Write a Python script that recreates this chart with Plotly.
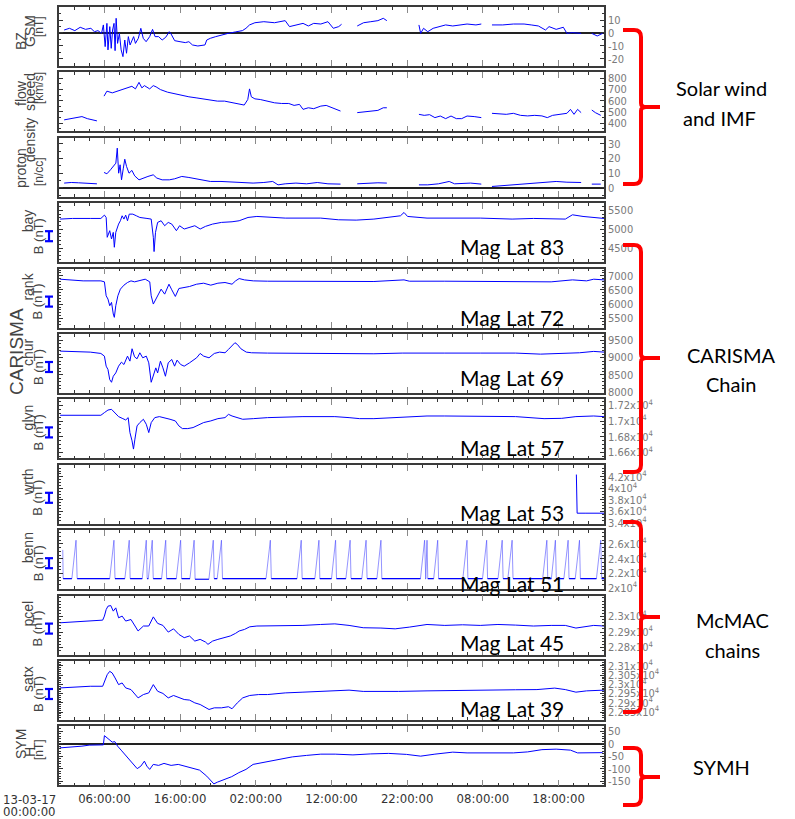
import plotly.graph_objects as go

# ---------------- time axis (hours since 2013-03-17 00:00) ----------------
tick_hours = [6, 16, 26, 36, 46, 56, 66]
tick_labels = ["06:00:00", "16:00:00", "02:00:00", "12:00:00", "22:00:00", "08:00:00", "18:00:00"]

# ---------------- data: (hour, value) ----------------
bz_gsm = [(0.68, 2.3), (1.38, 3.6), (2.09, 1.8), (2.80, 4.4), (3.50, 2.8), (4.21, 3.6), (4.68, 1.0), (5.15, 1.8),
          (5.62, -0.3), (5.86, 6.2), (6.10, -10.5), (6.33, 7.4), (6.47, -13.0), (6.71, 4.9), (6.90, -11.8),
          (7.08, 2.3), (7.27, 7.4), (7.41, -13.6), (7.55, 11.3), (7.74, -8.0), (7.98, -0.3), (8.21, -13.0),
          (8.45, -18.2), (8.69, -5.4), (8.92, -15.6), (9.16, -2.8), (9.39, -9.2), (9.63, -5.4), (9.86, -2.8),
          (10.10, -8.0), (10.48, -4.1), (10.81, 3.6), (11.13, -4.1), (11.51, -6.7), (11.98, -2.8), (12.36, 2.8),
          (12.69, -2.8), (13.16, -2.8), (13.63, -5.4), (14.10, -3.3), (14.57, 1.0), (14.81, -0.8), (15.28, -5.9),
          (15.99, -6.7), (16.69, -7.4), (17.16, -6.7), (17.63, -9.2), (18.34, -10.0), (19.28, -9.2), (19.52, -5.4),
          (19.99, -4.1), (20.70, -2.8), (21.40, -1.5), (22.34, -0.3), (23.29, 0.8), (24.23, 1.8), (24.70, 3.6),
          (25.17, 6.2), (25.88, 7.9), (27.06, 8.7), (28.47, 7.9), (29.88, 9.5), (30.45, 4.9), (31.30, 6.2),
          (32.24, 7.4), (32.94, 5.4), (33.65, 7.4), (34.59, 6.9), (35.53, 8.7), (36.24, 3.6), (36.95, 4.9),
          (37.33, 6.7), (None, None), (39.40, 5.4), (40.24, 7.9), (41.19, 8.7), (42.13, 9.5), (42.84, 11.3),
          (43.31, 9.5), (None, None), (47.55, 6.2), (47.78, -0.3), (48.16, 3.6), (48.72, 1.0), (49.43, 3.6),
          (50.13, 4.9), (51.08, 6.2), (52.02, 5.4), (52.96, 6.2), (53.91, 6.9), (55.08, 6.2), (55.79, 6.9),
          (None, None), (57.20, 6.2), (58.62, 6.2), (60.03, 6.9), (61.44, 6.9), (62.38, 6.2), (63.33, 5.4),
          (64.27, 2.3), (64.74, 4.9), (65.68, 2.8), (66.63, 4.4), (67.10, -0.3), (67.80, 0.3), (68.98, -0.3),
          (None, None), (70.39, -0.3), (71.10, -2.3), (71.81, -0.3)]

flow_speed = [(0.68, 430), (1.62, 441), (2.33, 450), (3.03, 459), (3.74, 441), (4.45, 430), (5.01, 421), (None, None),
              (5.95, 640), (6.33, 684), (7.04, 669), (7.74, 684), (8.45, 698), (9.16, 713), (9.63, 727), (10.10, 704),
              (10.57, 762), (10.95, 713), (11.28, 733), (11.98, 704), (12.45, 733), (12.83, 722), (13.40, 698),
              (14.34, 675), (15.28, 660), (16.22, 646), (17.16, 634), (18.11, 625), (19.05, 616), (19.99, 610),
              (20.93, 596), (21.87, 596), (22.82, 581), (23.76, 567), (24.47, 561), (24.94, 610), (25.17, 704),
              (25.41, 634), (25.88, 616), (26.59, 610), (27.53, 596), (28.47, 581), (29.41, 575), (30.35, 575),
              (31.06, 558), (31.77, 567), (32.24, 523), (32.94, 537), (33.65, 529), (34.59, 552), (35.30, 558),
              (36.00, 537), (36.49, 523), (37.19, 508), (None, None), (39.40, 494), (40.24, 500), (41.19, 505),
              (42.13, 514), (42.84, 537), (43.31, 537), (None, None), (47.55, 479), (48.25, 470), (48.96, 476),
              (49.66, 450), (50.37, 464), (51.08, 441), (51.79, 464), (52.49, 441), (53.20, 441), (53.91, 464),
              (54.85, 459), (55.79, 450), (None, None), (57.20, 488), (58.14, 482), (59.09, 479), (60.03, 488),
              (60.97, 470), (61.91, 465), (62.85, 470), (63.80, 465), (64.51, 450), (65.21, 470), (66.16, 476),
              (67.10, 488), (67.57, 523), (68.04, 479), (68.51, 523), (68.98, 494), (None, None), (70.39, 517),
              (70.86, 494), (71.57, 470)]

proton_density = [(0.68, 3.3), (1.62, 3.7), (2.56, 3.5), (3.50, 3.3), (4.45, 3.0), (5.01, 2.8), (None, None),
                  (5.95, 10.5), (6.33, 9.6), (6.80, 12.3), (7.18, 15.0), (7.51, 16.8), (7.70, 27.0), (7.88, 10.0),
                  (8.07, 15.7), (8.26, 5.5), (8.50, 13.4), (8.69, 19.5), (8.92, 14.6), (9.25, 10.0), (9.63, 11.9),
                  (10.00, 8.2), (10.57, 5.5), (11.13, 6.7), (11.75, 7.8), (12.45, 8.9), (12.92, 6.7), (13.63, 5.5),
                  (14.57, 5.5), (15.28, 6.2), (16.22, 7.8), (17.16, 7.1), (18.11, 6.2), (19.05, 5.1), (19.99, 4.4),
                  (21.40, 4.4), (22.82, 3.9), (24.23, 3.3), (25.64, 3.3), (27.06, 3.7), (28.23, 4.4), (28.94, 2.1),
                  (29.88, 2.8), (31.30, 3.3), (32.71, 2.8), (34.12, 3.7), (35.53, 2.8), (37.19, 2.6), (None, None),
                  (39.40, 2.8), (40.72, 3.3), (42.13, 3.5), (43.31, 3.3), (None, None), (47.55, 2.1), (48.72, 2.1),
                  (50.13, 2.8), (51.55, 4.4), (52.26, 2.8), (53.44, 2.8), (54.38, 3.3), (55.79, 2.6), (None, None),
                  (57.20, 1.0), (58.62, 1.5), (60.03, 2.1), (61.44, 2.6), (62.85, 3.3), (64.27, 3.7), (65.68, 4.4),
                  (67.10, 3.9), (68.98, 3.7), (None, None), (70.39, 2.6), (71.57, 2.6)]

b_bay = [(0.15, 5270), (1.78, 5287), (4.13, 5287), (5.53, 5287), (6.00, 5375), (6.23, 5313), (6.37, 4788),
         (6.70, 4963), (6.94, 4744), (7.17, 4919), (7.31, 4525), (7.50, 4919), (7.87, 5138), (8.11, 5226),
         (8.34, 5357), (8.58, 5270), (8.81, 5375), (9.05, 5226), (9.28, 5401), (9.75, 5401), (10.22, 5357),
         (10.68, 5313), (11.62, 5287), (12.18, 5270), (12.46, 4788), (12.56, 4411), (12.75, 4919), (13.03, 5182),
         (13.49, 5226), (13.96, 5094), (14.43, 5182), (14.90, 5138), (15.51, 4963), (15.93, 5094), (16.54, 5007),
         (17.24, 5051), (17.94, 5094), (18.65, 5007), (19.35, 5077), (20.29, 5138), (21.46, 5182), (22.86, 5199),
         (23.80, 5226), (24.97, 5313), (26.14, 5340), (29.89, 5296), (34.57, 5296), (36.91, 5252), (39.26, 5243),
         (41.60, 5270), (43.47, 5313), (45.11, 5357), (45.58, 5445), (46.05, 5340), (48.62, 5296), (55.65, 5296),
         (59.86, 5270), (62.68, 5287), (66.89, 5270), (67.83, 5383), (69.23, 5340), (71.57, 5296), (72.00, 5287)]

b_rank = [(0.15, 6878), (1.78, 6854), (3.19, 6820), (5.53, 6820), (6.00, 6785), (6.23, 6296), (6.47, 6180),
          (6.70, 5947), (6.94, 6064), (7.17, 5657), (7.31, 5540), (7.50, 5947), (7.78, 6296), (8.11, 6529),
          (8.58, 6669), (9.05, 6762), (9.51, 6820), (9.98, 6785), (10.68, 6843), (11.39, 6878), (11.99, 6785),
          (12.18, 6296), (12.46, 6006), (12.79, 6180), (13.12, 6389), (13.49, 6529), (13.96, 6354), (14.53, 6703),
          (14.90, 6506), (15.37, 6273), (15.84, 6552), (16.54, 6587), (17.24, 6622), (18.18, 6703), (19.11, 6738),
          (20.05, 6669), (20.99, 6738), (21.93, 6762), (22.86, 6703), (23.33, 6820), (23.80, 6901), (24.50, 6854),
          (25.67, 6820), (27.55, 6808), (32.23, 6797), (36.91, 6785), (41.60, 6797), (45.58, 6854), (46.28, 6808),
          (50.97, 6808), (55.65, 6797), (60.33, 6797), (65.02, 6785), (67.83, 6854), (69.70, 6820), (70.64, 6878),
          (72.00, 6854)]

b_chur = [(0.15, 9187), (2.25, 9168), (4.13, 9158), (5.53, 9120), (6.00, 9042), (6.23, 8753), (6.47, 8656),
          (6.70, 8366), (6.94, 8289), (7.17, 8463), (7.50, 8559), (7.87, 8753), (8.25, 8869), (8.58, 8801),
          (9.05, 9042), (9.37, 8898), (9.65, 9255), (9.98, 9023), (10.31, 8965), (10.68, 9139), (11.06, 8994),
          (11.53, 9042), (11.86, 8849), (12.18, 8289), (12.46, 8511), (12.79, 8704), (13.03, 8559), (13.40, 8898),
          (13.73, 8704), (14.06, 8463), (14.43, 8849), (14.90, 8946), (15.27, 8753), (15.60, 8927), (16.07, 8801),
          (16.54, 8753), (17.24, 8849), (18.18, 8994), (18.65, 9120), (19.11, 9042), (19.82, 8994), (20.52, 9120),
          (21.22, 9158), (21.93, 9139), (22.39, 9236), (22.86, 9332), (23.24, 9429), (23.56, 9381), (24.03, 9255),
          (24.74, 9158), (25.44, 9139), (27.55, 9130), (32.23, 9120), (36.91, 9120), (39.26, 9110), (41.60, 9110),
          (45.34, 9130), (48.62, 9139), (50.97, 9130), (55.65, 9130), (60.33, 9130), (63.61, 9100), (65.95, 9120),
          (68.76, 9139), (70.64, 9178), (72.00, 9158)]

b_glyn = [(0.15, 17074), (5.53, 17074), (6.00, 17108), (6.47, 17141), (6.94, 17150), (7.41, 17108), (7.87, 17057),
          (8.44, 17031), (8.81, 17014), (9.14, 17044), (9.37, 16853), (9.65, 16747), (9.84, 16642), (10.03, 16769),
          (10.31, 16938), (10.68, 16981), (11.15, 17023), (11.53, 16959), (11.86, 16853), (12.18, 16980),
          (12.65, 17044), (13.26, 17057), (13.96, 17044), (14.67, 17023), (15.37, 17002), (15.84, 16938),
          (16.30, 16904), (17.01, 16904), (17.71, 16917), (18.18, 16938), (19.11, 16981), (20.05, 17002),
          (20.99, 17031), (21.93, 17044), (22.39, 17086), (22.86, 17065), (23.56, 17044), (24.27, 17023),
          (25.67, 17031), (27.55, 17044), (32.23, 17057), (36.44, 17057), (38.32, 17044), (39.72, 17031),
          (41.60, 17031), (43.94, 17044), (46.28, 17057), (48.62, 17065), (50.97, 17065), (55.65, 17057),
          (60.33, 17057), (64.08, 17031), (66.42, 17035), (68.29, 17057), (70.64, 17065), (72.00, 17057)]

b_wrth = [(68.35, 42400), (68.45, 35700), (69.50, 35700), (70.50, 35750), (72.00, 35700)]

b_benn = [(0.50, 25200), (0.55, 21310), (1.70, 21310), (2.25, 26510), (2.40, 21310),
          (6.70, 21310), (7.26, 26510), (7.40, 21310), (8.70, 21310), (9.28, 26510), (9.40, 21310),
          (11.00, 21310), (11.53, 26510), (11.65, 21310), (11.80, 21310), (12.32, 26510), (12.45, 21310),
          (13.55, 21310), (14.10, 26510), (14.22, 21310), (15.50, 21310), (16.07, 26510), (16.20, 21310),
          (17.30, 21310), (17.85, 26510), (17.98, 21220), (19.80, 21220), (20.38, 26510), (20.50, 21310),
          (20.90, 21310), (21.46, 26510), (21.60, 21310), (27.35, 21310), (27.92, 26510), (28.05, 21310),
          (31.45, 21310), (32.00, 26510), (32.12, 21310), (33.80, 21310), (34.34, 26510), (34.46, 21310),
          (36.00, 21310), (36.54, 26510), (36.66, 21310), (37.90, 21310), (38.46, 26510), (38.58, 21310),
          (40.00, 21310), (40.57, 26510), (40.70, 21310), (42.00, 21310), (42.53, 26510), (42.65, 21310),
          (47.75, 21310), (48.30, 26510), (48.40, 21310), (48.45, 21310), (48.62, 26510), (48.72, 21310),
          (49.50, 21310), (50.03, 26510), (50.15, 21310), (53.35, 21310), (53.90, 26510), (54.02, 21310),
          (55.95, 21310), (56.50, 26510), (56.62, 21310), (58.00, 21310), (58.55, 26510), (58.67, 21310),
          (59.30, 21310), (59.86, 26510), (59.98, 21310), (63.90, 21310), (64.45, 26510), (64.57, 21310),
          (65.05, 21310), (65.58, 26510), (65.70, 21310), (66.70, 21310), (67.26, 26510), (67.38, 21310),
          (68.20, 21310), (68.76, 26510), (68.88, 21310), (71.00, 21310), (71.57, 26510), (71.70, 21310),
          (72.00, 21310)]

b_pcel = [(0.15, 22960), (2.25, 22966), (4.13, 22975), (5.77, 22977), (6.00, 23003), (6.23, 23045), (6.47, 23067),
          (6.84, 23071), (7.17, 23035), (7.50, 23056), (7.87, 22992), (8.34, 23003), (8.81, 22971), (9.51, 22981),
          (10.45, 22907), (11.15, 22939), (11.86, 22939), (12.46, 22998), (13.03, 22956), (13.73, 22943),
          (14.43, 22900), (15.13, 22921), (15.84, 22885), (16.54, 22864), (17.24, 22875), (17.94, 22842),
          (18.65, 22853), (19.35, 22836), (19.68, 22821), (20.29, 22842), (20.99, 22853), (21.93, 22864),
          (22.63, 22875), (23.33, 22892), (23.80, 22907), (24.50, 22917), (25.20, 22934), (26.14, 22939),
          (27.55, 22939), (29.89, 22939), (32.23, 22943), (34.57, 22949), (36.44, 22953), (38.32, 22943),
          (40.19, 22928), (42.53, 22926), (44.41, 22921), (46.28, 22932), (48.62, 22949), (50.97, 22943),
          (53.31, 22947), (55.65, 22943), (57.99, 22949), (60.33, 22945), (62.68, 22939), (65.02, 22943),
          (66.89, 22943), (68.29, 22926), (69.70, 22939), (70.64, 22943), (72.00, 22939)]

b_satx = [(0.15, 22981), (2.25, 22987), (4.13, 22990), (5.77, 22990), (6.00, 23017), (6.37, 23053), (6.70, 23071),
          (7.03, 23062), (7.41, 23035), (7.87, 22999), (8.34, 23008), (8.81, 22981), (9.51, 22972), (10.45, 22927),
          (11.15, 22945), (11.86, 22954), (12.46, 22999), (13.03, 22963), (13.73, 22951), (14.43, 22927),
          (15.13, 22940), (15.84, 22927), (16.54, 22918), (17.24, 22915), (17.94, 22900), (18.65, 22891),
          (19.35, 22873), (19.82, 22864), (20.52, 22873), (21.46, 22873), (22.39, 22879), (22.86, 22868),
          (23.56, 22900), (24.27, 22927), (25.20, 22940), (26.37, 22945), (27.55, 22945), (29.89, 22954),
          (32.23, 22958), (34.57, 22963), (36.91, 22967), (38.32, 22969), (40.19, 22962), (42.53, 22960),
          (44.88, 22962), (48.62, 22965), (50.97, 22967), (55.65, 22969), (60.33, 22971), (63.14, 22972),
          (65.49, 22980), (66.89, 22972), (68.29, 22958), (69.70, 22965), (72.00, 22969)]

sym_h = [(0.11, -16), (1.62, -13), (3.03, -9), (3.98, -5), (4.92, -4), (5.86, -4), (6.00, 33), (6.33, 24), (6.71, 17),
         (7.04, 7), (7.37, 9), (7.74, -9), (8.21, -25), (8.69, -42), (9.16, -60), (9.63, -78), (10.33, -99),
         (10.81, -89), (11.28, -69), (11.61, -89), (11.98, -102), (12.45, -82), (13.16, -86), (13.87, -78),
         (14.81, -86), (15.75, -82), (16.69, -89), (17.63, -99), (18.58, -105), (19.52, -129), (20.46, -160),
         (20.93, -153), (21.87, -142), (22.82, -131), (23.76, -115), (24.70, -102), (25.64, -82), (27.06, -73),
         (28.94, -62), (30.82, -52), (32.71, -46), (34.59, -41), (36.49, -41), (38.83, -44), (41.19, -40),
         (43.55, -38), (45.90, -42), (47.78, -49), (49.66, -41), (52.02, -33), (53.91, -36), (56.26, -37),
         (60.03, -36), (61.91, -32), (63.80, -23), (65.68, -21), (67.57, -25), (68.51, -36), (70.39, -36),
         (71.81, -35)]

# ---------------- y tick values / labels ----------------
bz_ticks = [10, 0, -10, -20]
flow_ticks = [800, 700, 600, 500, 400]
dens_ticks = [30, 20, 10, 0]
bay_ticks = [5500, 5000, 4500]
rank_ticks = [7000, 6500, 6000, 5500]
chur_ticks = [9500, 9000, 8500, 8000]
glyn_ticks = [17200, 17000, 16800, 16600]
glyn_text = ["1.72x10<sup>4</sup>", "1.7x10<sup>4</sup>", "1.68x10<sup>4</sup>", "1.66x10<sup>4</sup>"]
wrth_ticks = [42000, 40000, 38000, 36000, 34000]
wrth_text = ["4.2x10<sup>4</sup>", "4x10<sup>4</sup>", "3.8x10<sup>4</sup>", "3.6x10<sup>4</sup>", "3.4x10<sup>4</sup>"]
benn_ticks = [26000, 24000, 22000, 20000]
benn_text = ["2.6x10<sup>4</sup>", "2.4x10<sup>4</sup>", "2.2x10<sup>4</sup>", "2x10<sup>4</sup>"]
pcel_ticks = [23000, 22900, 22800]
pcel_text = ["2.3x10<sup>4</sup>", "2.29x10<sup>4</sup>", "2.28x10<sup>4</sup>"]
satx_ticks = [23100, 23050, 23000, 22950, 22900, 22850]
satx_text = ["2.31x10<sup>4</sup>", "2.305x10<sup>4</sup>", "2.3x10<sup>4</sup>", "2.295x10<sup>4</sup>",
             "2.29x10<sup>4</sup>", "2.285x10<sup>4</sup>"]
symh_ticks = [50, 0, -50, -100, -150]

stations = ["bay", "rank", "chur", "glyn", "wrth", "benn", "pcel", "satx"]
mag_lats = ["Mag Lat 83", "Mag Lat 72", "Mag Lat 69", "Mag Lat 57", "Mag Lat 53", "Mag Lat 51", "Mag Lat 45", "Mag Lat 39"]

panels = [
    dict(data=bz_gsm, rng=[-25.4, 20], tv=bz_ticks, tt=[str(v) for v in bz_ticks], minor=5, zero=True),
    dict(data=flow_speed, rng=[328, 850], tv=flow_ticks, tt=[str(v) for v in flow_ticks], minor=50, zero=False),
    dict(data=proton_density, rng=[-6, 34], tv=dens_ticks, tt=[str(v) for v in dens_ticks], minor=5, zero=True),
    dict(data=b_bay, rng=[4130, 5690], tv=bay_ticks, tt=[str(v) for v in bay_ticks], minor=100, zero=False),
    dict(data=b_rank, rng=[5180, 7250], tv=rank_ticks, tt=[str(v) for v in rank_ticks], minor=100, zero=False),
    dict(data=b_chur, rng=[7980, 9680], tv=chur_ticks, tt=[str(v) for v in chur_ticks], minor=100, zero=False),
    dict(data=b_glyn, rng=[16523, 17277], tv=glyn_ticks, tt=glyn_text, minor=50, zero=False),
    dict(data=b_wrth, rng=[33860, 44090], tv=wrth_ticks, tt=wrth_text, minor=500, zero=False),
    dict(data=b_benn, rng=[19870, 27870], tv=benn_ticks, tt=benn_text, minor=500, zero=False),
    dict(data=b_pcel, rng=[22755, 23135], tv=pcel_ticks, tt=pcel_text, minor=20, zero=False),
    dict(data=b_satx, rng=[22807, 23127], tv=satx_ticks, tt=satx_text, minor=10, zero=False),
    dict(data=sym_h, rng=[-166, 70], tv=symh_ticks, tt=[str(v) for v in symh_ticks], minor=10, zero=True),
]

# ---------------- geometry helpers (pixels -> paper) ----------------
W, H = 795, 819
L, R, T, B = 59, 604, 7, 786
PW, PH = R - L, B - T
TOP0, PITCH, PANEL_H = 7.0, 65.4, 59.0


def px(x):
    return (x - L) / PW


def py(y):
    return (B - y) / PH


def ptop(i):
    return TOP0 + PITCH * i


NARROW = "Liberation Sans Narrow, DejaVu Sans Condensed, Arial Narrow, Liberation Sans, sans-serif"
SANS = "Liberation Sans, Arial, sans-serif"
CAL = "Lato, Carlito, Calibri, sans-serif"
BLUE = "#0000ff"

fig = go.Figure()
layout = dict(width=W, height=H, margin=dict(l=L, r=W - R, t=T, b=H - B, pad=0),
              paper_bgcolor="white", plot_bgcolor="white", showlegend=False, template="none")

for i, p in enumerate(panels):
    k = "" if i == 0 else str(i + 1)
    ts = [d[0] for d in p["data"]]
    vs = [d[1] for d in p["data"]]
    if i == 8:  # benn: interpolated spikes lighter, baseline solid
        fig.add_trace(go.Scatter(x=ts, y=vs, mode="lines", line=dict(color="rgba(60,60,255,0.55)", width=1),
                                 xaxis="x" + k, yaxis="y" + k, hoverinfo="skip"))
        base = [v if (v is not None and v < 23000) else None for v in vs]
        fig.add_trace(go.Scatter(x=ts, y=base, mode="lines", line=dict(color=BLUE, width=1.2),
                                 xaxis="x" + k, yaxis="y" + k, connectgaps=False))
    else:
        fig.add_trace(go.Scatter(x=ts, y=vs, mode="lines", line=dict(color=BLUE, width=1),
                                 xaxis="x" + k, yaxis="y" + k, connectgaps=False))
    top = ptop(i)
    bot = top + PANEL_H
    layout["xaxis" + k] = dict(
        domain=[0, 1], range=[0, 72], anchor="y" + k, tickmode="array", tickvals=tick_hours, ticktext=tick_labels,
        showticklabels=(i == 11), ticks="inside", ticklen=6, tickwidth=1.2, tickcolor="#8a8a8a",
        showline=True, linecolor="#3a3a3a", linewidth=1.6, mirror="ticks", showgrid=False, zeroline=False,
        minor=dict(tickmode="linear", tick0=0, dtick=2, ticks="inside", ticklen=3, tickcolor="#333", tickwidth=1),
        tickfont=dict(family=NARROW, size=13, color="#333"))
    layout["yaxis" + k] = dict(
        domain=[py(bot), py(top)], range=p["rng"], anchor="x" + k, side="right", tickmode="array",
        tickvals=p["tv"], ticktext=p["tt"], ticks="inside", ticklen=4, tickcolor="#333",
        showline=True, linecolor="#3a3a3a", linewidth=1.6, mirror="ticks", showgrid=False,
        zeroline=p["zero"], zerolinecolor="#222", zerolinewidth=1.5,
        minor=dict(tickmode="linear", dtick=p["minor"], ticks="inside", ticklen=2, tickcolor="#333"),
        tickfont=dict(family=NARROW, size=11, color="#7a7a7a"))

annotations = []
shapes = []


def ann(text, x, y, size=13, color="#444", family=SANS, angle=0):
    annotations.append(dict(text=text, x=px(x), y=py(y), xref="paper", yref="paper", showarrow=False,
                            xanchor="center", yanchor="middle", textangle=angle,
                            font=dict(size=size, color=color, family=family)))


# left titles: solar-wind panels and SYM-H
ann("BZ", 21, 41, size=14, angle=-90)
ann("GSM", 30, 31, size=14, angle=-90)
ann("[nT]", 39, 27, size=12, angle=-90)
ann("flow", 21, 93, size=14, angle=-90)
ann("speed", 30, 92, size=14, angle=-90)
ann("[km/s]", 39, 88, size=12, angle=-90)
ann("proton", 21, 168, size=14, angle=-90)
ann("density", 30, 140, size=14, angle=-90)
ann("[n/cc]", 39, 172, size=12, angle=-90)
ann("SYM", 21, 744, size=14, angle=-90)
ann("H", 30, 752, size=14, angle=-90)
ann("[nT]", 39, 750, size=12, angle=-90)

# magnetometer panels
for j, st in enumerate(stations):
    top = ptop(3 + j)
    ann(st, 28, top + 18, size=14, angle=-90)
    ann("B (nT)", 38, top + 33, size=13, angle=-90)
    yc = top + 33
    for (x0, y0, x1, y1) in [(49, yc - 5, 49, yc + 5), (45, yc - 5, 53, yc - 5), (45, yc + 5, 53, yc + 5)]:
        shapes.append(dict(type="line", xref="paper", yref="paper", x0=px(x0), y0=py(y0), x1=px(x1), y1=py(y1),
                           line=dict(color=BLUE, width=2.2)))

ann("CARISMA", 17, 352, size=19, color="#444", angle=-90)

# date under the left of time axis
ann("13-03-17", 29, 799, size=13, color="#333", family=NARROW)
ann("00:00:00", 29, 811, size=13, color="#333", family=NARROW)

# Mag Lat labels
for lab, yy in zip(mag_lats, [246, 317, 378, 448, 512, 583, 642, 708]):
    ann(lab, 512, yy, size=21, color="#000", family=CAL)

# right-side group labels
ann("Solar wind", 721, 88, size=20, color="#000", family=CAL)
ann("and IMF", 719, 118, size=20, color="#000", family=CAL)
ann("CARISMA", 731, 355, size=20, color="#000", family=CAL)
ann("Chain", 731, 384, size=20, color="#000", family=CAL)
ann("McMAC", 732, 620, size=20, color="#000", family=CAL)
ann("chains", 732, 650, size=20, color="#000", family=CAL)
ann("SYMH", 721, 767, size=20, color="#000", family=CAL)


# red curly brackets
def bracket(t, m, b, xa=623, xv=641, xn=660, r=7):
    pts = lambda x, y: f"{px(x):.5f},{py(y):.5f}"
    path = (f"M {pts(xa, t)} L {pts(xv - r, t)} Q {pts(xv, t)} {pts(xv, t + r)} "
            f"L {pts(xv, m - 4)} Q {pts(xv, m)} {pts(xv + 5, m)} L {pts(xn, m)} L {pts(xv + 5, m)} "
            f"Q {pts(xv, m)} {pts(xv, m + 4)} L {pts(xv, b - r)} Q {pts(xv, b)} {pts(xv - r, b)} L {pts(xa, b)}")
    shapes.append(dict(type="path", xref="paper", yref="paper", path=path,
                       line=dict(color="#ff0000", width=4)))


bracket(30, 107, 184)
bracket(245, 358, 472)
bracket(522, 617, 712)
bracket(748, 777, 805)

layout["annotations"] = annotations
layout["shapes"] = shapes
fig.update_layout(**layout)
fig.write_html("out.html", config={"displayModeBar": False},
               post_script="document.body.style.margin='0px';")
